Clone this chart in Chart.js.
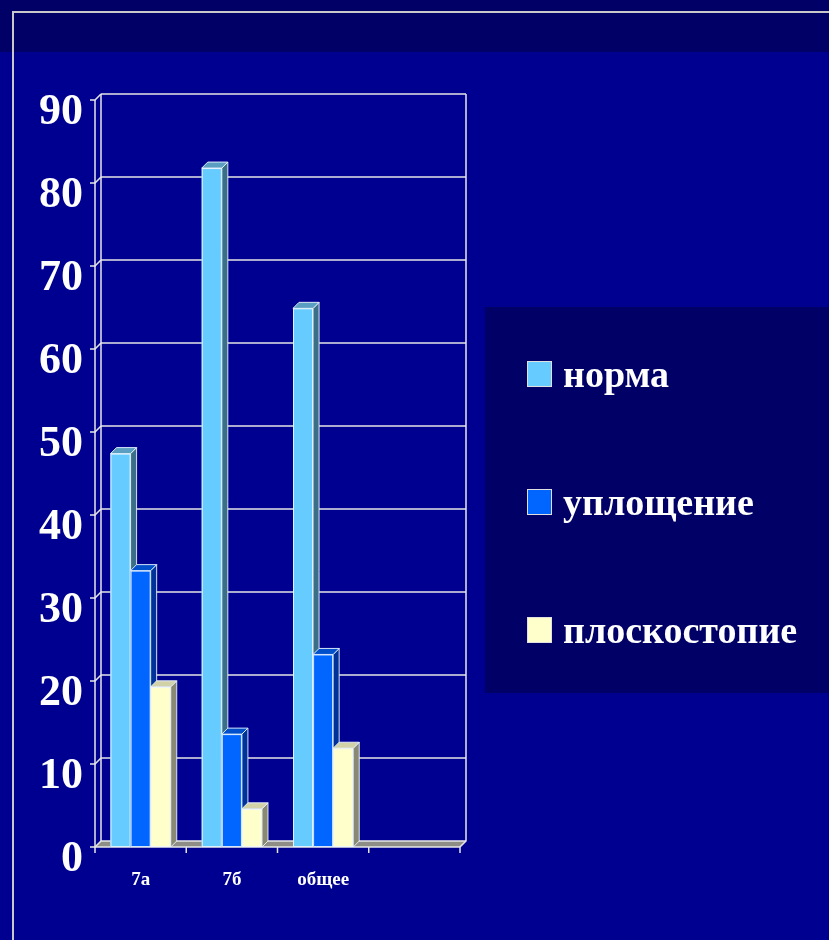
<!DOCTYPE html>
<html>
<head>
<meta charset="utf-8">
<script src="https://cdn.jsdelivr.net/npm/chart.js@4/dist/chart.umd.min.js"></script>
<style>
  html, body { margin: 0; padding: 0; background: #000090; }
  #wrap { position: relative; width: 829px; height: 940px; }
  canvas { display: block; }
</style>
</head>
<body>
<div id="wrap"><canvas id="c" width="829" height="940"></canvas></div>
<script>
// ---- data ----
const categories = ['7а', '7б', 'общее', ''];
const seriesNames = ['норма', 'уплощение', 'плоскостопие'];
const normaValues = [47.4, 81.8, 64.9, null];
const uploshchenieValues = [33.3, 13.6, 23.2, null];
const ploskostopieValues = [19.3, 4.6, 11.9, null];
const yTicks = [0, 10, 20, 30, 40, 50, 60, 70, 80, 90];

// ---- styles ----
const frontColors = ['#66CCFF', '#0066FF', '#FFFFCC'];
const sideColors  = ['#3A6F88', '#003399', '#8A8A72'];
const topColors   = ['#5A9EC2', '#0050CC', '#D2D2A8'];
const DEPTH = 6;
const LINE = '#E6E6E6';
const SERIF = '"Liberation Serif", "Times New Roman", serif';

const backgroundPlugin = {
  id: 'bg',
  beforeDraw(chart) {
    const ctx = chart.ctx;
    ctx.save();
    ctx.fillStyle = '#000090';
    ctx.fillRect(0, 0, chart.width, chart.height);
    ctx.fillStyle = '#000066';
    ctx.fillRect(0, 0, chart.width, 52);
    ctx.strokeStyle = '#C8C8C8';
    ctx.lineWidth = 2;
    ctx.beginPath();
    ctx.moveTo(13, chart.height);
    ctx.lineTo(13, 12);
    ctx.lineTo(chart.width, 12);
    ctx.stroke();
    // legend panel
    ctx.fillStyle = '#000066';
    ctx.fillRect(485, 307, chart.width - 485, 386);
    ctx.restore();
  }
};

const walls3D = {
  id: 'walls3D',
  beforeDatasetsDraw(chart) {
    const { ctx, chartArea } = chart;
    const { left, right } = chartArea;
    const ys = chart.scales.y, xs = chart.scales.x;
    const D = DEPTH;
    const yTop = ys.getPixelForValue(yTicks[yTicks.length - 1]);
    const yBot = ys.getPixelForValue(0);
    ctx.save();
    // floor
    ctx.fillStyle = '#8E8E86';
    ctx.beginPath();
    ctx.moveTo(left, yBot);
    ctx.lineTo(right, yBot);
    ctx.lineTo(right + D, yBot - D);
    ctx.lineTo(left + D, yBot - D);
    ctx.closePath();
    ctx.fill();
    ctx.strokeStyle = LINE;
    ctx.lineWidth = 1.5;
    // back wall grid lines and front ticks
    yTicks.forEach(v => {
      const y = ys.getPixelForValue(v);
      ctx.beginPath();
      ctx.moveTo(left + D, y - D);
      ctx.lineTo(right + D, y - D);
      ctx.stroke();
      ctx.beginPath();
      ctx.moveTo(left - 5, y);
      ctx.lineTo(left, y);
      ctx.lineTo(left + D, y - D);
      ctx.stroke();
    });
    // back wall verticals
    ctx.beginPath();
    ctx.moveTo(left + D, yTop - D); ctx.lineTo(left + D, yBot - D);
    ctx.moveTo(right + D, yTop - D); ctx.lineTo(right + D, yBot - D);
    ctx.lineTo(right, yBot);
    ctx.stroke();
    // front axes
    ctx.beginPath();
    ctx.moveTo(left, yTop); ctx.lineTo(left, yBot + 6);
    ctx.moveTo(left, yBot); ctx.lineTo(right, yBot);
    ctx.stroke();
    // x ticks at category boundaries
    const n = categories.length;
    for (let i = 1; i <= n; i++) {
      const x = (i === n) ? right : (xs.getPixelForValue(i - 1) + xs.getPixelForValue(i)) / 2;
      ctx.beginPath();
      ctx.moveTo(x, yBot); ctx.lineTo(x, yBot + 6);
      ctx.stroke();
    }
    ctx.restore();
  },
  afterDatasetsDraw(chart) {
    const ctx = chart.ctx;
    const D = DEPTH;
    ctx.save();
    ctx.lineWidth = 1;
    ctx.strokeStyle = 'rgba(235,245,255,0.9)';
    chart.data.datasets.forEach((ds, di) => {
      const meta = chart.getDatasetMeta(di);
      meta.data.forEach((bar, i) => {
        if (ds.data[i] == null) return;
        const { x, y, width, base } = bar.getProps(['x', 'y', 'width', 'base'], true);
        const l = x - width / 2, r = x + width / 2;
        // front
        ctx.fillStyle = frontColors[di];
        ctx.fillRect(l, y, width, base - y);
        ctx.strokeRect(l + 0.5, y + 0.5, width - 1, base - y - 1);
        // side
        ctx.fillStyle = sideColors[di];
        ctx.beginPath();
        ctx.moveTo(r, y); ctx.lineTo(r + D, y - D); ctx.lineTo(r + D, base - D); ctx.lineTo(r, base);
        ctx.closePath(); ctx.fill(); ctx.stroke();
        // top
        ctx.fillStyle = topColors[di];
        ctx.beginPath();
        ctx.moveTo(l, y); ctx.lineTo(r, y); ctx.lineTo(r + D, y - D); ctx.lineTo(l + D, y - D);
        ctx.closePath(); ctx.fill(); ctx.stroke();
      });
    });
    ctx.restore();
  }
};

const legendPlugin = {
  id: 'customLegend',
  afterDraw(chart) {
    const ctx = chart.ctx;
    const baselines = [387, 515, 643];
    ctx.save();
    ctx.font = 'bold 38px ' + SERIF;
    ctx.textBaseline = 'alphabetic';
    ctx.textAlign = 'left';
    chart.data.datasets.forEach((ds, i) => {
      const b = baselines[i];
      ctx.fillStyle = frontColors[i];
      ctx.fillRect(527, b - 26, 24, 25);
      ctx.strokeStyle = '#E0E0E0';
      ctx.lineWidth = 1;
      ctx.strokeRect(527.5, b - 25.5, 24, 25);
      ctx.fillStyle = '#FFFFFF';
      ctx.fillText(ds.label, 563, b);
    });
    ctx.restore();
  }
};

new Chart(document.getElementById('c'), {
  type: 'bar',
  data: {
    labels: categories,
    datasets: [
      { label: seriesNames[0], data: normaValues, backgroundColor: frontColors[0] },
      { label: seriesNames[1], data: uploshchenieValues, backgroundColor: frontColors[1] },
      { label: seriesNames[2], data: ploskostopieValues, backgroundColor: frontColors[2] }
    ]
  },
  options: {
    responsive: false,
    devicePixelRatio: 1,
    animation: false,
    datasets: { bar: { categoryPercentage: 0.66, barPercentage: 1.0 } },
    layout: { padding: { top: 100, right: 369, bottom: 43, left: 0 } },
    plugins: { legend: { display: false }, tooltip: { enabled: false } },
    scales: {
      y: {
        min: 0, max: 90,
        afterFit(s) { s.width = 95; },
        afterBuildTicks(s) { s.ticks = yTicks.map(v => ({ value: v })); },
        grid: { display: false },
        border: { display: false },
        ticks: {
          color: '#FFFFFF',
          font: { family: SERIF, size: 44, weight: 'bold' },
          padding: 4,
          labelOffset: 13
        }
      },
      x: {
        afterFit(s) { s.height = 50; },
        grid: { display: false },
        border: { display: false },
        ticks: {
          color: '#FFFFFF',
          font: { family: SERIF, size: 19, weight: 'bold' },
          padding: 14,
          maxRotation: 0
        }
      }
    }
  },
  plugins: [backgroundPlugin, walls3D, legendPlugin]
});
</script>
</body>
</html>
